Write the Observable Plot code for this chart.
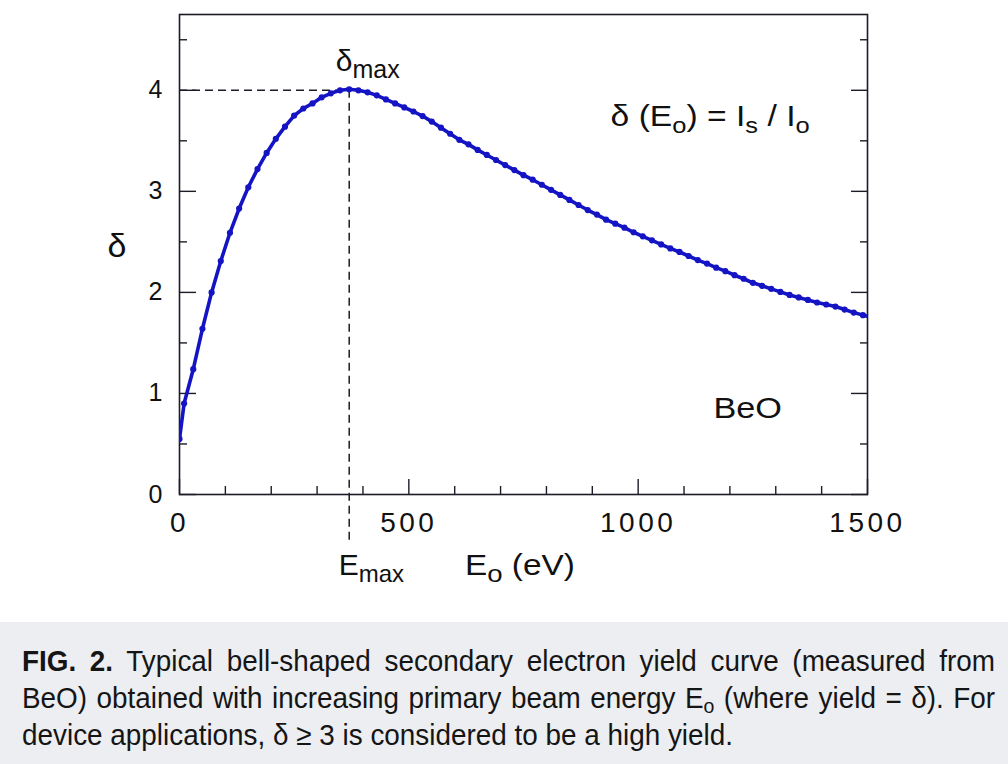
<!DOCTYPE html>
<html>
<head>
<meta charset="utf-8">
<script src="https://cdn.jsdelivr.net/npm/d3@7"></script>
<script src="https://cdn.jsdelivr.net/npm/@observablehq/plot@0.6"></script>
<style>
html, body { margin: 0; padding: 0; background: #ffffff; width: 1008px; height: 764px; overflow: hidden; }
#chart svg { display: block; }
#caption { background: #eceef1; height: 142px; box-sizing: border-box; padding: 20px 13px 0 22px;
  font-family: "Liberation Sans", Arial, sans-serif;
  font-size: 30px; color: #151515; line-height: 37px; }
#caption .line { white-space: nowrap; height: 37px; }
#caption .line span.inner { display: inline-block; transform-origin: left center; }
#caption sub { font-size: 0.7em; vertical-align: -0.25em; line-height: 0; }
</style>
</head>
<body>
<div id="chart"></div>
<div id="caption">
  <div class="line"><span class="inner"><b>FIG. 2.</b> Typical bell-shaped secondary electron yield curve (measured from</span></div>
  <div class="line"><span class="inner">BeO) obtained with increasing primary beam energy E<sub>o</sub> (where yield = δ). For</span></div>
  <div class="line"><span class="inner">device applications, δ ≥ 3 is considered to be a high yield.</span></div>
</div>
<script>
// ---- data ----
const energy = [0, 10, 30, 50, 70, 90, 110, 130, 150, 170, 190, 210, 230, 250, 270, 290, 310, 330, 350, 370,
  390, 410, 430, 450, 470, 490, 510, 530, 550, 570, 590, 610, 630, 650, 670, 690, 710, 730, 750, 770,
  790, 810, 830, 850, 870, 890, 910, 930, 950, 970, 990, 1010, 1030, 1050, 1070, 1090, 1110, 1130, 1150, 1170,
  1190, 1210, 1230, 1250, 1270, 1290, 1310, 1330, 1350, 1370, 1390, 1410, 1430, 1450, 1470, 1490, 1510];
const yieldDelta = [0.55, 0.90, 1.24, 1.64, 2.00, 2.31, 2.59, 2.83, 3.04, 3.22, 3.38, 3.52, 3.64, 3.75, 3.82, 3.87, 3.93, 3.97, 4.00, 4.01,
  4.00, 3.98, 3.95, 3.91, 3.87, 3.83, 3.79, 3.745, 3.69, 3.63, 3.57, 3.51, 3.465, 3.41, 3.36, 3.31, 3.26, 3.21, 3.16, 3.115,
  3.065, 3.015, 2.965, 2.915, 2.865, 2.815, 2.77, 2.72, 2.68, 2.64, 2.595, 2.555, 2.515, 2.475, 2.435, 2.40, 2.36, 2.32, 2.285, 2.245,
  2.21, 2.17, 2.135, 2.095, 2.065, 2.035, 2.005, 1.975, 1.95, 1.925, 1.90, 1.88, 1.86, 1.83, 1.80, 1.775, 1.755];
const xMajorTicks = [0, 500, 1000, 1500];
const xMinorTicks = [100, 200, 300, 400, 600, 700, 800, 900, 1100, 1200, 1300, 1400];
const yMajorTicks = [0, 1, 2, 3, 4];
const yMinorTicks = [0.5, 1.5, 2.5, 3.5, 4.5];
const eMax = 370;
const deltaMax = 4;
const guideBelowAxis = -0.46;
const materialLabel = "BeO";

const data = energy.map((e, i) => ({E: e, d: yieldDelta[i]}));
const blue = "#1414c4";
const ink = "#1c1c28";
const blank = () => "";
const plain = d => String(d);

const plot = Plot.plot({
  width: 1008, height: 622,
  marginLeft: 179, marginRight: 141, marginTop: 14, marginBottom: 128,
  x: {domain: [0, 1500]},
  y: {domain: [0, 4.75]},
  style: {fontFamily: "'Liberation Sans', Arial, sans-serif", color: "#111", background: "transparent", overflow: "visible"},
  marks: [
    Plot.frame({stroke: ink, strokeWidth: 1.6}),
    // x axis ticks (inward)
    Plot.axisX(xMinorTicks, {tickSize: -8, tickFormat: blank, label: null, stroke: ink, strokeWidth: 1.4}),
    Plot.axisX(xMajorTicks, {tickSize: -15, tickFormat: blank, label: null, stroke: ink, strokeWidth: 1.4}),
    Plot.axisX(xMajorTicks, {tickSize: 0, tickPadding: 18, fontSize: 28, tickFormat: plain, label: null, fill: "#111"}),
    // left y axis
    Plot.axisY(yMinorTicks, {tickSize: -8, tickFormat: blank, label: null, stroke: ink, strokeWidth: 1.4}),
    Plot.axisY(yMajorTicks, {tickSize: -17, tickFormat: blank, label: null, stroke: ink, strokeWidth: 1.4}),
    Plot.axisY(yMajorTicks, {tickSize: 0, tickPadding: 17, fontSize: 25, tickFormat: plain, label: null, fill: "#111"}),
    // right y axis
    Plot.axisY(yMinorTicks, {anchor: "right", tickSize: -8, tickFormat: blank, label: null, stroke: ink, strokeWidth: 1.4}),
    Plot.axisY(yMajorTicks, {anchor: "right", tickSize: -17, tickFormat: blank, label: null, stroke: ink, strokeWidth: 1.4}),
    // dashed guides to the maximum
    Plot.ruleY([deltaMax], {x1: 0, x2: eMax, stroke: ink, strokeWidth: 1.5, strokeDasharray: "8,5"}),
    Plot.ruleX([eMax], {y1: deltaMax, y2: guideBelowAxis, stroke: ink, strokeWidth: 1.5, strokeDasharray: "8,5"}),
    // curve
    Plot.line(data, {x: "E", y: "d", stroke: blue, strokeWidth: 3.6, clip: true}),
    Plot.dot(data, {x: "E", y: "d", r: 3.1, fill: blue, stroke: "none", clip: true})
  ]
});
document.getElementById("chart").appendChild(plot);

const svg = d3.select(plot);
svg.selectAll("g[aria-label='x-axis tick label'] text").style("letter-spacing", "3.5px");

const sx = v => plot.scale("x").apply(v);
const sy = v => plot.scale("y").apply(v);

// rich text helper: parts = [[text, isSub], ...]
function rich(x, y, parts, size, subSize, anchor = "start", stretch = 1) {
  const t = svg.append("text")
    .attr("transform", `translate(${x},${y}) scale(${stretch},1)`)
    .attr("font-family", "'Liberation Sans', Arial, sans-serif")
    .attr("font-size", size).attr("fill", "#111")
    .attr("text-anchor", anchor)
    .style("white-space", "pre");
  let shifted = false;
  for (const [s, sub] of parts) {
    const ts = t.append("tspan").text(s);
    if (sub && !shifted) { ts.attr("dy", size * 0.24).attr("font-size", subSize); shifted = true; }
    else if (sub) { ts.attr("font-size", subSize); }
    else if (shifted) { ts.attr("dy", -size * 0.24); shifted = false; }
  }
  return t;
}

// δmax label above the peak
rich(sx(eMax) - 13, sy(deltaMax) - 19, [["δ", false], ["max", true]], 30, 25);
// Emax label below the axis
rich(sx(eMax) - 10, sy(0) + 81, [["E", false], ["max", true]], 30, 24);
// x axis title
rich(sx(0) + 286, sy(0) + 81, [["E", false], ["o", true], [" (eV)", false]], 29, 24, "start", 1.15);
// y axis title
rich(sx(0) - 62, sy(2.4) + 6, [["δ", false]], 34, 34, "middle");
// material label
rich(sx(1240), sy(0.75), [[materialLabel, false]], 29, 29, "middle", 1.18);
// formula
rich(sx(941), sy(3.64), [["δ (E", false], ["o", true], [") = I", false], ["s", true], [" / I", false], ["o", true]], 29, 22, "start", 1.16);

// caption: slightly condensed face, lines 1 & 2 justified to full width
const target = 1008 - 22 - 13;
const lastLineWidth = 711;
const inners = Array.from(document.querySelectorAll("#caption .inner"));
const widths = inners.map(s => s.getBoundingClientRect().width);
let k = lastLineWidth / widths[2];
k = Math.min(k, target / widths[0], target / widths[1]);
inners.forEach((s, i) => {
  s.style.transform = `scaleX(${k})`;
  if (i < 2) {
    const gaps = (s.textContent.match(/ /g) || []).length;
    const extra = (target - widths[i] * k) / k / gaps;
    if (extra > 0) s.style.wordSpacing = extra + "px";
  }
});
</script>
</body>
</html>
